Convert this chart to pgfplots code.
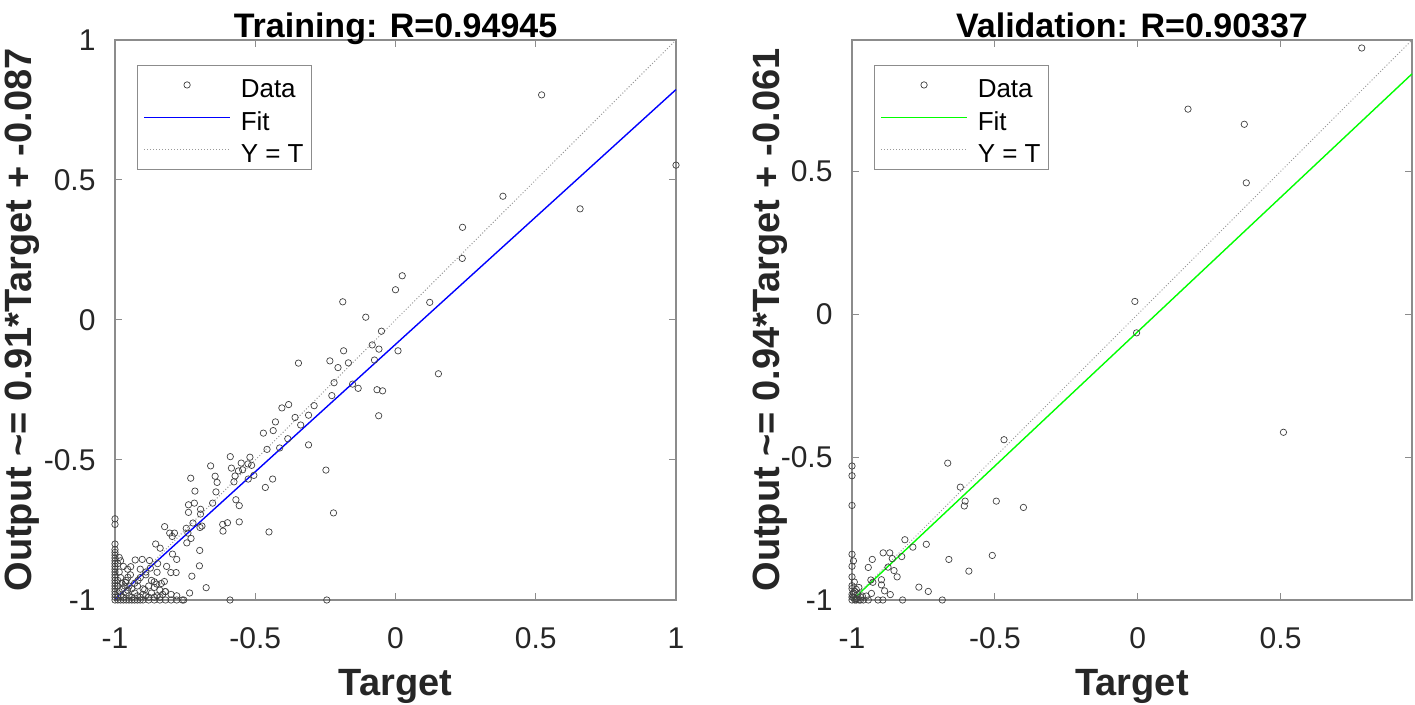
\documentclass[border=0pt]{standalone}
\usepackage{pgfplots}
\pgfplotsset{compat=1.18}
\usepackage{fontspec}
\setmainfont{Liberation Sans}
\definecolor{tickc}{HTML}{262626}
\definecolor{framec}{HTML}{8C8C8C}
\definecolor{fitblue}{rgb}{0,0,1}
\definecolor{fitgreen}{rgb}{0,1,0}
\newcommand{\lgsp}{\hspace*{8pt}\rule[-9pt]{0pt}{36pt}}
\pgfplotsset{
  regstyle/.style={
    scale only axis,
    anchor=south west,
    clip=false,
    axis line style={framec, line width=1.2pt},
    tick style={framec, line width=1pt},
    major tick length=7pt,
    tick align=inside,
    tick pos=both,
    ticklabel style={font=\fontsize{30}{36}\selectfont, text=tickc},
    xticklabel style={yshift=-24pt},
    yticklabel style={xshift=-16pt},
    title style={font=\fontsize{34}{40}\selectfont\bfseries, yshift=-9pt, text depth=0.21em, text height=0.75em},
    xlabel style={font=\fontsize{38}{44}\selectfont\bfseries, text=tickc, at={(axis description cs:0.5,-0.155)}, anchor=center},
    ylabel style={font=\fontsize{38}{44}\selectfont\bfseries, text=tickc, inner sep=0pt, anchor=north},
    legend cell align=left,
    legend image code/.code={\draw[mark repeat=2,mark phase=2,#1] plot coordinates {(0pt,0pt) (43pt,0pt) (86pt,0pt)};},
    legend style={at={(axis description cs:0.039,0.955)}, anchor=north west,
      draw=framec, line width=1pt, fill=white,
      font=\fontsize{26}{30}\selectfont, inner xsep=6pt, inner ysep=3pt,
      row sep=0pt},
  },
  datastyle/.style={only marks, mark=o, mark size=3.2pt, mark options={draw=black!75, line width=0.7pt}},
  idstyle/.style={no marks, black!40, line width=1pt, dotted},
}
\begin{document}
\begin{tikzpicture}
\useasboundingbox (0,0) rectangle (1415pt,704pt);
% ---------------- Training ----------------
\begin{axis}[regstyle,
  at={(115pt,104pt)}, width=561pt, height=560pt,
  xmin=-1, xmax=1, ymin=-1, ymax=1,
  xtick={-1,-0.5,0,0.5,1}, xticklabels={-1,-0.5,0,0.5,1},
  ytick={-1,-0.5,0,0.5,1}, yticklabels={-1,-0.5,0,0.5,1},
  title={Training: R=0.94945},
  xlabel={Target},
  ylabel={Output \textasciitilde= 0.91*Target + -0.087},
  ylabel style={at={(axis description cs:-0.196,0.5)}},
]
\addplot[datastyle] coordinates {
(0.521,0.804) (1,0.553) (0.383,0.442) (0.658,0.397) (0.239,0.331) (0.238,0.220) (0.024,0.158) (0.0,0.108) (-0.188,0.065) (0.122,0.063) (-0.106,0.010) (-0.050,-0.040) (-0.083,-0.089) (-0.059,-0.104) (-0.185,-0.110) (0.009,-0.110) (-0.075,-0.143) (-0.234,-0.146) (-0.168,-0.153) (-0.205,-0.170) (-0.346,-0.154) (0.153,-0.192) (-0.219,-0.224) (-0.153,-0.229) (-0.227,-0.270) (-0.133,-0.244) (-0.066,-0.249) (-0.046,-0.253) (-0.290,-0.306) (-0.381,-0.302) (-0.405,-0.314) (-0.060,-0.342) (-0.358,-0.348) (-0.310,-0.340) (-0.428,-0.364) (-0.338,-0.375) (-0.471,-0.404) (-0.436,-0.395) (-0.384,-0.424) (-0.458,-0.462) (-0.413,-0.457) (-0.310,-0.446) (-0.589,-0.488) (-0.519,-0.490) (-0.550,-0.511) (-0.526,-0.514) (-0.513,-0.519) (-0.585,-0.529) (-0.560,-0.539) (-0.545,-0.535) (-0.659,-0.521) (-0.248,-0.536) (-0.572,-0.557) (-0.505,-0.555) (-0.525,-0.568) (-0.643,-0.558) (-0.636,-0.580) (-0.576,-0.578) (-0.438,-0.568) (-0.730,-0.565) (-0.464,-0.598) (-0.715,-0.611) (-0.640,-0.614) (-0.569,-0.642) (-0.652,-0.654) (-0.717,-0.654) (-0.738,-0.660) (-0.557,-0.663) (-0.695,-0.676) (-0.738,-0.687) (-0.695,-0.693) (-0.221,-0.689) (-0.616,-0.730) (-0.599,-0.724) (-0.557,-0.721) (-0.722,-0.725) (-0.690,-0.736) (-0.697,-0.741) (-0.823,-0.738) (-0.746,-0.744) (-0.615,-0.754) (-0.451,-0.757) (-0.805,-0.761) (-0.788,-0.761) (-0.796,-0.773) (-0.740,-0.761) (-0.729,-0.780) (-0.744,-0.796) (-0.855,-0.800) (-0.839,-0.815) (-0.698,-0.823) (-0.795,-0.836) (-0.780,-0.855) (-0.877,-0.859) (-0.903,-0.855) (-0.928,-0.857) (-0.848,-0.870) (-0.816,-0.880) (-0.874,-0.886) (-0.699,-0.878) (-0.910,-0.890) (-0.890,-0.900) (-0.850,-0.901) (-0.801,-0.902) (-0.782,-0.902) (-0.944,-0.881) (-0.726,-0.915) (-0.860,-0.935) (-0.851,-0.943) (-0.835,-0.941) (-0.824,-0.934) (-0.675,-0.956) (-0.734,-0.975) (-0.894,-0.963) (-0.918,-0.930) (-0.954,-0.919) (-0.962,-0.937) (-0.985,-0.848) (-0.821,-0.970)
(-1,-1) (-0.99,-1) (-0.98,-1) (-0.97,-1) (-0.96,-1) (-0.95,-1) (-0.94,-1) (-0.93,-1) (-0.92,-1) (-0.91,-1) (-0.90,-1) (-0.88,-1) (-0.86,-1) (-0.84,-1) (-0.82,-1) (-0.80,-1) (-0.78,-1) (-0.76,-1) (-0.755,-1) (-0.59,-1) (-0.245,-1)
(-1,-0.99) (-1,-0.98) (-1,-0.97) (-1,-0.96) (-1,-0.95) (-1,-0.94) (-1,-0.93) (-1,-0.92) (-1,-0.91) (-1,-0.90) (-1,-0.89) (-1,-0.88) (-1,-0.87) (-1,-0.86) (-1,-0.85) (-1,-0.84) (-1,-0.83) (-1,-0.82) (-1,-0.80) (-1,-0.73) (-1,-0.71)
(-0.99,-0.99) (-0.98,-0.985) (-0.97,-0.99) (-0.985,-0.97) (-0.975,-0.96) (-0.96,-0.975) (-0.95,-0.985) (-0.94,-0.99) (-0.965,-0.95) (-0.955,-0.965) (-0.99,-0.95) (-0.99,-0.93) (-0.98,-0.92) (-0.975,-0.94) (-0.96,-0.93) (-0.95,-0.95) (-0.94,-0.96) (-0.93,-0.975) (-0.92,-0.985) (-0.91,-0.99) (-0.90,-0.98) (-0.89,-0.985) (-0.88,-0.99) (-0.87,-0.975) (-0.86,-0.99) (-0.85,-0.985) (-0.84,-0.99) (-0.83,-0.98) (-0.92,-0.95) (-0.93,-0.94) (-0.91,-0.92) (-0.945,-0.91) (-0.955,-0.89) (-0.97,-0.88) (-0.985,-0.90) (-0.99,-0.87) (-0.98,-0.86) (-0.90,-0.96) (-0.88,-0.95) (-0.87,-0.93) (-0.89,-0.91) (-0.86,-0.955) (-0.84,-0.965) (-0.82,-0.97) (-0.80,-0.98) (-0.78,-0.985)
};
\addlegendentry{\lgsp Data}
\addplot[fitblue, line width=1.4pt, no marks] coordinates {(-1,-0.997) (1,0.823)};
\addlegendentry{\lgsp Fit}
\addplot[idstyle] coordinates {(-1,-1) (1,1)};
\addlegendentry{\lgsp Y = T}
\end{axis}
% ---------------- Validation ----------------
\begin{axis}[regstyle,
  at={(852pt,104pt)}, width=560pt, height=560pt,
  xmin=-1, xmax=0.96, ymin=-1, ymax=0.96,
  xtick={-1,-0.5,0,0.5}, xticklabels={-1,-0.5,0,0.5},
  ytick={-1,-0.5,0,0.5}, yticklabels={-1,-0.5,0,0.5},
  title={Validation: R=0.90337},
  xlabel={Target},
  ylabel={Output \textasciitilde= 0.94*Target + -0.061},
  ylabel style={at={(axis description cs:-0.178,0.5)}},
]
\addplot[datastyle] coordinates {
(0.784,0.932) (0.176,0.718) (0.373,0.665) (0.380,0.460) (-0.010,0.045) (-0.004,-0.065) (0.510,-0.413) (-0.468,-0.439) (-0.665,-0.521) (-0.621,-0.605) (-0.604,-0.654) (-0.607,-0.671) (-0.495,-0.654) (-0.400,-0.676)
(-1,-0.531) (-1,-0.565) (-1,-0.669) (-0.815,-0.789) (-0.740,-0.805) (-0.787,-0.815) (-0.891,-0.835) (-0.868,-0.835) (-0.826,-0.848) (-0.859,-0.855) (-0.929,-0.858) (-0.661,-0.858) (-0.509,-0.844) (-0.995,-0.863) (-1,-0.840) (-0.943,-0.886) (-0.874,-0.885) (-0.853,-0.897) (-0.591,-0.899) (-0.842,-0.919) (-1,-0.882) (-1,-0.919) (-0.934,-0.930) (-0.927,-0.938) (-0.897,-0.929) (-0.897,-0.947) (-0.992,-0.937) (-0.766,-0.955) (-0.733,-0.970) (-0.886,-0.968) (-0.866,-0.981) (-0.932,-0.977) (-0.976,-0.956) (-0.985,-0.963) (-0.964,-0.986) (-0.950,-0.986)
(-0.823,-1) (-0.684,-1) (-0.909,-1) (-0.892,-1) (-0.943,-1) (-0.97,-1) (-0.985,-1) (-1,-1) (-0.995,-0.99) (-0.99,-1) (-0.985,-0.995) (-0.98,-0.98) (-1,-0.98) (-1,-0.96) (-1,-0.95) (-0.99,-0.97) (-0.97,-0.99) (-0.975,-1) (-0.96,-1) (-1,-0.99) (-0.995,-0.975)
};
\addlegendentry{\lgsp Data}
\addplot[fitgreen, line width=1.4pt, no marks] coordinates {(-0.999,-1.0) (0.96,0.8414)};
\addlegendentry{\lgsp Fit}
\addplot[idstyle] coordinates {(-1,-1) (0.96,0.96)};
\addlegendentry{\lgsp Y = T}
\end{axis}
\end{tikzpicture}
\end{document}
